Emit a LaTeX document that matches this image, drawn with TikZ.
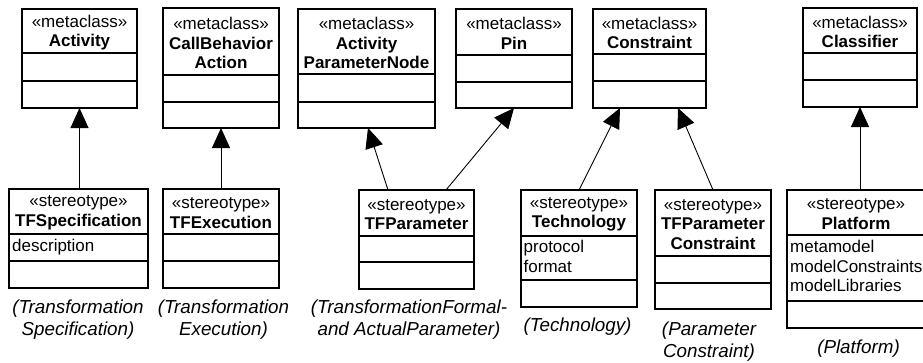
\documentclass[tikz,border=0pt]{standalone}
\usepackage{fontspec}
\setmainfont{Liberation Sans}
\usetikzlibrary{arrows.meta,calc}
\tikzset{
  box/.style={draw, line width=1.3pt, inner sep=0pt, outer sep=0pt, fill=white, anchor=north west},
  compline/.style={line width=1.3pt},
  hdr/.style={align=center, inner sep=0pt, font=\fontsize{17}{19.5}\selectfont},
  attr/.style={inner sep=0pt, anchor=base west, font=\fontsize{17}{19.5}\selectfont},
  captxt/.style={align=center, inner sep=0pt, font=\fontsize{18.8}{22}\selectfont\itshape},
  gen/.style={line width=0.9pt, -{Triangle[width=18pt,length=20pt]}},
}
\newcommand{\umlclass}[8]{%
  \node[box, minimum width={(#3-#2)*1pt}, minimum height={(#7-#4)*1pt}] (#1) at (#2,#4) {};
  \draw[compline] (#2,#5) -- (#3,#5);
  \draw[compline] (#2,#6) -- (#3,#6);
  \node[hdr] (#1-hdr) at ({(#2+#3)/2},{(#4+#5)/2+1.5}) {#8};
}
\begin{document}
\begin{tikzpicture}[x=1pt,y=-1pt]
\useasboundingbox[fill=white] (0,0) rectangle (923,362);
% metaclasses
\umlclass{act}{22}{137}{9}{53}{81}{108}{«metaclass»\\\textbf{Activity}}
\umlclass{cba}{163}{279}{8}{75}{102}{128}{«metaclass»\\\textbf{CallBehavior}\\\textbf{Action}}
\umlclass{apn}{298}{435}{9}{74}{102}{128}{«metaclass»\\\textbf{Activity}\\\textbf{ParameterNode}}
\umlclass{pin}{456}{572}{9}{55}{82}{108}{«metaclass»\\\textbf{Pin}}
\umlclass{cons}{593}{706}{9}{54}{81}{108}{«metaclass»\\\textbf{Constraint}}
\umlclass{cls}{803}{917}{8}{53}{80}{107}{«metaclass»\\\textbf{Classifier}}
% stereotypes
\umlclass{spec}{9}{148}{189}{234}{261}{288}{«stereotype»\\\textbf{TFSpecification}}
\umlclass{exec}{163}{279}{189}{234}{261}{288}{«stereotype»\\\textbf{TFExecution}}
\umlclass{param}{359}{474}{190}{236}{262}{289}{«stereotype»\\\textbf{TFParameter}}
\umlclass{tech}{521}{637}{190}{236}{280}{307}{«stereotype»\\\textbf{Technology}}
\umlclass{pc}{655}{771}{190}{256}{283}{309}{«stereotype»\\\textbf{TFParameter}\\\textbf{Constraint}}
\umlclass{plat}{787}{925}{190}{235}{301}{328}{«stereotype»\\\textbf{Platform}}
% attributes
\node[attr] (spec-a1) at (12,251.5) {description};
\node[attr] (tech-a1) at (523.5,252.5) {protocol};
\node[attr] (tech-a2) at (523.5,272) {format};
\node[attr] (plat-a1) at (790,252.5) {metamodel};
\node[attr] (plat-a2) at (790,272) {modelConstraints};
\node[attr] (plat-a3) at (790,291.5) {modelLibraries};
% captions
\node[captxt] (spec-cap) at (78,319.5) {(Transformation\\Specification)};
\node[captxt] (exec-cap) at (223.5,319.5) {(Transformation\\Execution)};
\node[captxt] (param-cap) at (409,319.5) {(TransformationFormal-\\and ActualParameter)};
\node[captxt, anchor=base] (tech-cap) at (577.5,331.5) {(Technology)};
\node[captxt] (pc-cap) at (709,341.5) {(Parameter\\Constraint)};
\node[captxt, anchor=base] (plat-cap) at (858.5,353.5) {(Platform)};
% generalizations
\draw[gen] (spec.north -| act.south) -- (act.south);
\draw[gen] (exec.north) -- (cba.south);
\draw[gen] ($(param.north west)+(29,0)$) -- ($(apn.south west)+(70,0)$);
\draw[gen] ($(param.north west)+(87,0)$) -- (pin.south);
\draw[gen] (tech.north) -- ($(cons.south west)+(27,0)$);
\draw[gen] (pc.north) -- ($(cons.south west)+(85,0)$);
\draw[gen] (plat.north -| cls.south) -- (cls.south);
\end{tikzpicture}
\end{document}
